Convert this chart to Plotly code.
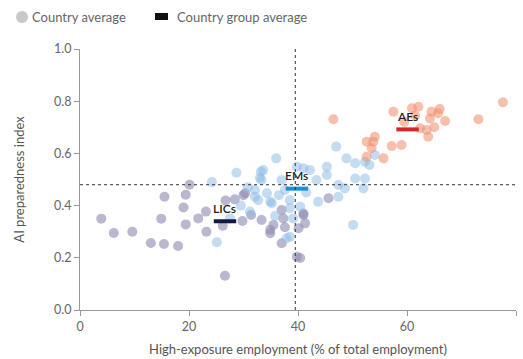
import plotly.graph_objects as go

# ---- data ----
lic_x = [3.9, 6.2, 9.6, 13.0, 15.4, 18.0, 14.9, 15.5, 19.4, 20.1, 19.0, 19.4, 21.7, 23.1, 23.2,
         26.6, 26.7, 28.4, 30.0, 29.8, 31.4, 26.2, 33.3, 34.9, 35.5, 37.6, 37.0, 39.8, 40.4,
         37.0, 41.0, 41.3, 45.6, 40.1, 30.3, 34.9, 37.3, 41.0]
lic_y = [0.35, 0.295, 0.30, 0.257, 0.253, 0.245, 0.35, 0.434, 0.442, 0.48, 0.393, 0.328, 0.351, 0.377, 0.30,
         0.131, 0.42, 0.424, 0.44, 0.341, 0.364, 0.323, 0.345, 0.307, 0.326, 0.317, 0.256, 0.204, 0.199,
         0.383, 0.364, 0.332, 0.428, 0.313, 0.447, 0.294, 0.351, 0.37]

em_x = [24.2, 28.7, 25.1, 36.0, 33.2, 33.0, 32.1, 34.3, 35.2, 31.2, 27.5, 38.5, 40.4, 37.6, 37.0,
        39.8, 33.6, 33.3, 32.1, 32.7, 34.9, 38.5, 38.5, 37.9, 39.1, 41.0, 42.2, 45.3, 45.3, 47.0,
        48.9, 50.5, 52.3, 53.1, 54.1, 50.5, 52.3, 43.4, 47.4, 48.6, 52.0, 47.4, 43.7, 50.1, 29.5,
        30.8, 36.5, 35.8, 41.5]
em_y = [0.49, 0.526, 0.26, 0.581, 0.53, 0.506, 0.434, 0.447, 0.409, 0.377, 0.351, 0.281, 0.396, 0.46, 0.498,
        0.549, 0.536, 0.498, 0.46, 0.421, 0.415, 0.421, 0.39, 0.275, 0.351, 0.543, 0.536, 0.549, 0.517, 0.626,
        0.581, 0.562, 0.568, 0.556, 0.594, 0.504, 0.504, 0.498, 0.479, 0.466, 0.466, 0.434, 0.415, 0.326, 0.40,
        0.47, 0.44, 0.36, 0.45]

ae_x = [46.5, 77.6, 73.1, 67.0, 65.7, 64.5, 64.2, 62.1, 60.9, 57.5, 62.4, 63.6, 63.9, 59.0, 57.2,
        54.1, 53.8, 52.6, 53.5, 52.6, 55.7, 61.5, 65.0, 59.5, 66.0]
ae_y = [0.731, 0.796, 0.731, 0.724, 0.754, 0.76, 0.734, 0.779, 0.773, 0.76, 0.696, 0.69, 0.664, 0.632, 0.628,
        0.664, 0.645, 0.645, 0.62, 0.587, 0.581, 0.745, 0.70, 0.72, 0.77]

group_names = ["LICs", "EMs", "AEs"]
group_x = [26.6, 39.8, 60.1]
group_y = [0.34, 0.465, 0.692]

x_threshold = 39.5
y_threshold = 0.48

x_ticks = [0, 20, 40, 60, 80]
y_ticks = [0.0, 0.2, 0.4, 0.6, 0.8, 1.0]

# ---- styles ----
FONT = "Lato, 'Open Sans', sans-serif"
lic_color = "rgba(140,136,178,0.6)"
em_color = "rgba(135,185,230,0.5)"
ae_color = "rgba(240,140,105,0.55)"
group_colors = ["#14193f", "#1b8fd6", "#d7262b"]

fig = go.Figure()
for xs, ys, col in [(lic_x, lic_y, lic_color), (em_x, em_y, em_color), (ae_x, ae_y, ae_color)]:
    fig.add_trace(go.Scatter(x=xs, y=ys, mode="markers",
                             marker=dict(size=10, color=col, line=dict(width=0)),
                             showlegend=False, hoverinfo="skip"))

fig.add_trace(go.Scatter(x=group_x, y=group_y, mode="markers",
                         marker=dict(symbol="line-ew", size=16,
                                     line=dict(width=4, color=group_colors)),
                         showlegend=False, hoverinfo="skip"))

W, H = 523, 359
L, R, T, B = 80, 7, 49, 49
pw, ph = W - L - R, H - T - B


def px(xp):
    return (xp - L) / pw


def py(yp):
    return (H - B - yp) / ph


shapes = [
    dict(type="line", xref="x", yref="paper", x0=x_threshold, x1=x_threshold, y0=0, y1=1,
         line=dict(color="#333", width=1, dash="3px,3px")),
    dict(type="line", xref="paper", yref="y", x0=0, x1=1, y0=y_threshold, y1=y_threshold,
         line=dict(color="#333", width=1, dash="3px,3px")),
    # legend symbols
    dict(type="circle", xref="paper", yref="paper", x0=px(16), x1=px(28), y0=py(23), y1=py(11),
         fillcolor="#c8c8c8", line=dict(width=0)),
    dict(type="rect", xref="paper", yref="paper", x0=px(155), x1=px(168), y0=py(20), y1=py(13),
         fillcolor="#111", line=dict(width=0)),
]
annotations = [
    dict(x=px(30), y=py(17), xref="paper", yref="paper", text="Country average", showarrow=False,
         xanchor="left", yanchor="middle", font=dict(family=FONT, size=13, color="#666")),
    dict(x=px(175), y=py(17), xref="paper", yref="paper", text="Country group average", showarrow=False,
         xanchor="left", yanchor="middle", font=dict(family=FONT, size=13, color="#666")),
]
for name, gx, gy in zip(group_names, group_x, group_y):
    annotations.append(dict(x=gx, y=gy, xref="x", yref="y", text=name, showarrow=False,
                            yshift=13, xanchor="center", yanchor="middle",
                            font=dict(family=FONT, size=12, color="#222", weight=600)))

fig.update_layout(
    width=W, height=H, margin=dict(l=L, r=R, t=T, b=B, autoexpand=False),
    paper_bgcolor="white", plot_bgcolor="white",
    font=dict(family=FONT, size=12, color="#666"),
    shapes=shapes, annotations=annotations,
    showlegend=False,
)
fig.update_xaxes(range=[0, 80], tickvals=x_ticks, showgrid=False, zeroline=False,
                 showline=True, linecolor="#999", linewidth=1, automargin=False,
                 ticks="outside", ticklen=5, tickcolor="#999",
                 tickfont=dict(size=12.5, color="#666"),
                 title=dict(text="High-exposure employment (% of total employment)",
                            font=dict(size=13, color="#555"), standoff=11))
fig.update_yaxes(range=[0, 1], tickvals=y_ticks, tickformat=".1f", showgrid=False, zeroline=False,
                 showline=True, linecolor="#999", linewidth=1, automargin=False,
                 ticks="outside", ticklen=5, tickcolor="#999",
                 tickfont=dict(size=12.5, color="#666"),
                 title=dict(text="AI preparedness index", font=dict(size=13, color="#555"), standoff=26))

fig.write_html("out.html", config={"displayModeBar": False},
               post_script="document.body.style.margin='0';document.body.style.overflow='hidden';")
